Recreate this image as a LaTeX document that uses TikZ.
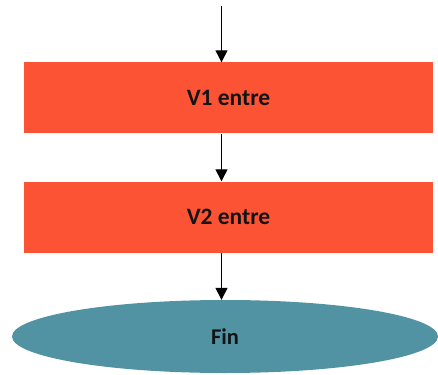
\documentclass[tikz,border=0pt]{standalone}
\usepackage{fontspec}
\setmainfont{Carlito}
\usetikzlibrary{shapes.geometric,arrows.meta}
\definecolor{boxred}{HTML}{FC5335}
\definecolor{endteal}{HTML}{5193A3}
\definecolor{ink}{HTML}{141414}
\tikzset{
  stepbox/.style={rectangle, fill=boxred, draw=none, minimum width=409pt,
    minimum height=71pt, inner sep=0pt, font=\fontsize{23.5}{26}\selectfont\bfseries, text=ink},
  endbox/.style={ellipse, fill=endteal, draw=none, minimum width=426pt,
    minimum height=73pt, inner sep=0pt, font=\fontsize{22.5}{26}\selectfont\bfseries, text=ink},
  flow/.style={draw=black, line width=1.3pt, -{Triangle[length=12pt,width=12pt]}}
}
\begin{document}
\begin{tikzpicture}[x=1pt,y=-1pt]
  \useasboundingbox (0,0) rectangle (438,374);
  \node[stepbox] (v1) at (228.5,98) {V1 entre};
  \node[stepbox] (v2) at (228.5,217) {V2 entre};
  \node[endbox] (fin) at (225,336.5) {Fin};
  \coordinate (start) at (221.5,6);
  \draw[flow] (start) -- (start |- v1.north);
  \draw[flow] (v1.south -| start) -- (v2.north -| start);
  \draw[flow] (v2.south -| start) -- (fin.north -| start);
\end{tikzpicture}
\end{document}
